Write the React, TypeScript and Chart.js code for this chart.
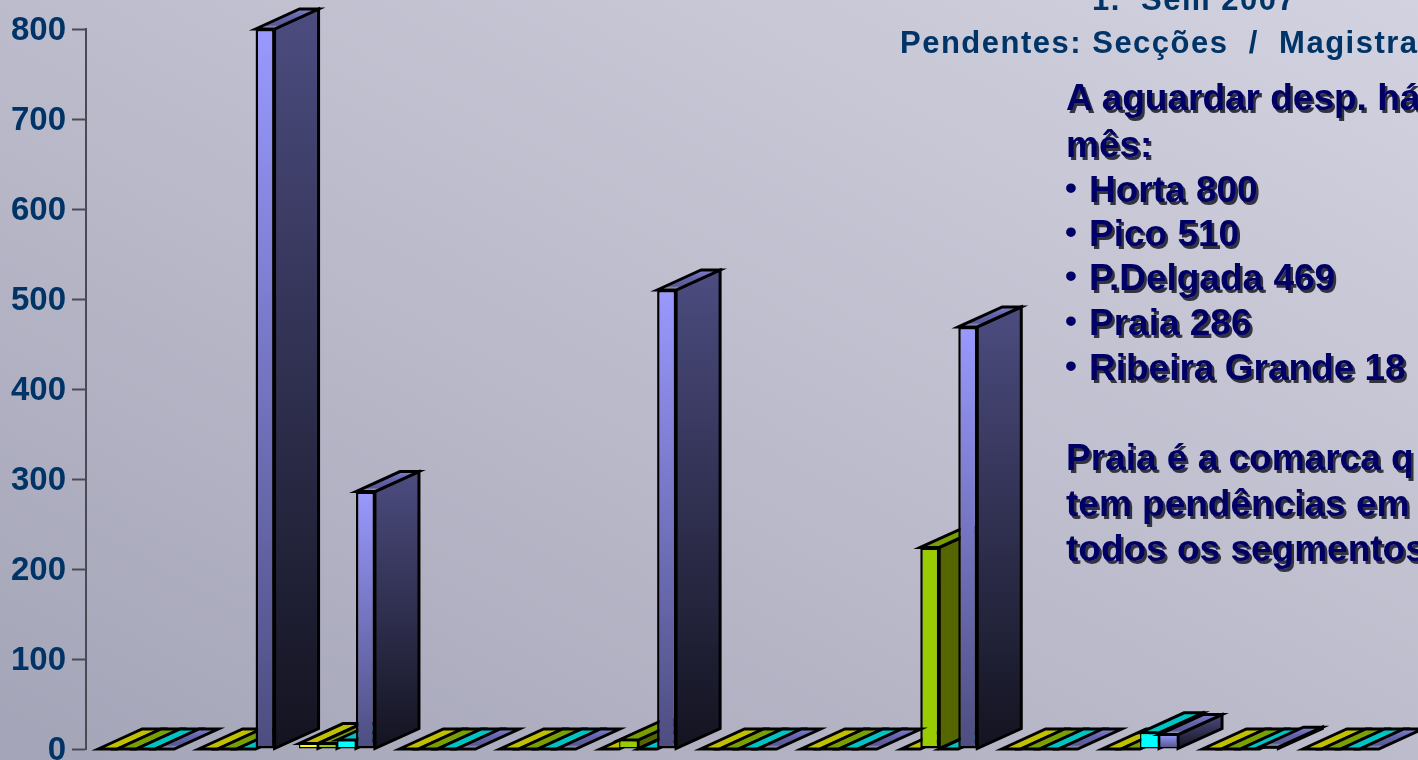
import React, { useEffect, useRef } from "react";
import { Chart, registerables } from "chart.js";

Chart.register(...registerables);

const categories = ["C1", "Horta", "Praia", "C4", "C5", "Pico", "C7", "C8", "P.Delgada", "C10", "Ribeira Grande", "C12", "C13"];
const seriesYellow = [0, 0, 6, 0, 0, 0, 0, 0, 0, 0, 0, 0, 0];
const seriesGreen = [0, 0, 6, 0, 0, 10, 0, 0, 224, 0, 0, 0, 0];
const seriesCyan = [0, 0, 10, 0, 0, 0, 0, 0, 0, 0, 18, 0, 0];
const seriesPurple = [0, 800, 286, 0, 0, 510, 0, 0, 469, 0, 16, 2, 0];
const yTicks = [0, 100, 200, 300, 400, 500, 600, 700, 800];

const titleLines = [
  { text: "1.  Sem 2007", left: 1092, baseline: 12 },
  { text: "Pendentes: Secções  /  Magistra", left: 900, baseline: 55 },
];
const noteLines = [
  { text: "A aguardar desp. há", left: 1066, baseline: 111 },
  { text: "mês:", left: 1066, baseline: 158 },
  { text: "Horta 800", left: 1089, baseline: 203, bullet: true },
  { text: "Pico 510", left: 1089, baseline: 247, bullet: true },
  { text: "P.Delgada 469", left: 1089, baseline: 291, bullet: true },
  { text: "Praia 286", left: 1089, baseline: 336, bullet: true },
  { text: "Ribeira Grande 18", left: 1089, baseline: 381, bullet: true },
  { text: "Praia é a comarca q", left: 1066, baseline: 471 },
  { text: "tem pendências em", left: 1066, baseline: 517 },
  { text: "todos os segmentos", left: 1066, baseline: 562 },
];

const DX = 44;
const DY = -20;

type Face = { front: string; side: string; top: string };
const faces: Face[] = [
  { front: "#ffff00", side: "#808000", top: "#c0c000" },
  { front: "#99cc00", side: "#556600", top: "#7a9f00" },
  { front: "#00ffff", side: "#009a9a", top: "#00c4c4" },
  { front: "#9999ff", side: "#4c4c80", top: "#7070b8" },
];

function drawFaces(chart: any, i: number) {
  const ctx: CanvasRenderingContext2D = chart.ctx;
  const meta = chart.getDatasetMeta(i);
  const f = faces[i];
  meta.data.forEach((bar: any) => {
    const p = bar.getProps(["x", "y", "base", "width"], true);
    const l = p.x - p.width / 2;
    const r = p.x + p.width / 2;
    const t = p.y;
    const b = p.base;
    ctx.save();
    ctx.lineWidth = 3;
    ctx.strokeStyle = "#000";
    ctx.lineJoin = "miter";
    if (b - t > 0.5) {
      let fill: any = f.side;
      if (i === 3) {
        const g = ctx.createLinearGradient(0, t + DY, 0, b);
        g.addColorStop(0, "#4c4c80");
        g.addColorStop(1, "#131320");
        fill = g;
      }
      ctx.beginPath();
      ctx.moveTo(r, t);
      ctx.lineTo(r + DX, t + DY);
      ctx.lineTo(r + DX, b + DY);
      ctx.lineTo(r, b);
      ctx.closePath();
      ctx.fillStyle = fill;
      ctx.fill();
      ctx.stroke();
    }
    let topFill: any = f.top;
    if (i === 3) {
      const g = ctx.createLinearGradient(0, t, 0, t + DY);
      g.addColorStop(0, "#c4c4d4");
      g.addColorStop(0.2, "#5a5a94");
      g.addColorStop(0.6, "#6464ac");
      g.addColorStop(1, "#8080cc");
      topFill = g;
    }
    ctx.beginPath();
    ctx.moveTo(l, t);
    ctx.lineTo(l + DX, t + DY);
    ctx.lineTo(r + DX, t + DY);
    ctx.lineTo(r, t);
    ctx.closePath();
    ctx.fillStyle = topFill;
    ctx.fill();
    ctx.stroke();
    ctx.restore();
  });
}

const faces3d = {
  id: "faces3d",
  beforeDatasetDraw() {
    return false;
  },
  afterDatasetsDraw(chart: any) {
    seriesList.forEach((_, i) => {
      drawFaces(chart, i);
      chart.getDatasetMeta(i).controller.draw();
    });
  },
};

function frontFill(i: number) {
  return (c: any) => {
    if (i !== 3) return faces[i].front;
    const scale = c.chart.scales.y;
    if (!scale || typeof c.raw !== "number") return faces[i].front;
    const y0 = scale.getPixelForValue(c.raw);
    const y1 = scale.getPixelForValue(0);
    if (!Number.isFinite(y0) || !Number.isFinite(y1)) return faces[i].front;
    const g = c.chart.ctx.createLinearGradient(0, y0, 0, y1);
    g.addColorStop(0, "#9999ff");
    g.addColorStop(1, "#4d4d80");
    return g;
  };
}

const seriesList = [seriesYellow, seriesGreen, seriesCyan, seriesPurple];

export default function App() {
  const ref = useRef<HTMLCanvasElement>(null);
  useEffect(() => {
    if (!ref.current) return;
    const chart = new Chart(ref.current, {
      type: "bar",
      data: {
        labels: categories,
        datasets: seriesList.map((data, i) => ({
          label: `Série ${i + 1}`,
          data,
          backgroundColor: frontFill(i),
          borderColor: "#000",
          borderWidth: (c: any) => (typeof c.raw === "number" && c.raw < 30 ? 1.4 : 2.5),
          borderSkipped: false,
          categoryPercentage: 0.757,
          barPercentage: 1,
        })),
      },
      options: {
        animation: false,
        responsive: false,
        devicePixelRatio: 1,
        layout: { padding: { left: 0, top: 29, right: 27, bottom: 11 } },
        plugins: { legend: { display: false }, tooltip: { enabled: false }, title: { display: false } },
        scales: {
          x: { display: false },
          y: {
            min: 0,
            max: 800,
            afterBuildTicks: (s: any) => {
              s.ticks = yTicks.map((value) => ({ value }));
            },
            afterFit: (s: any) => {
              s.width = 86;
              s.paddingTop = 0;
              s.paddingBottom = 0;
            },
            border: { color: "#4a4a55", width: 2 },
            grid: { drawOnChartArea: false, color: "#4a4a55", tickLength: 14, tickWidth: 2 },
            ticks: {
              color: "#003366",
              padding: 6,
              labelOffset: 2,
              font: { family: "'Liberation Sans', Arial, sans-serif", size: 33, weight: "bold" },
            },
          },
        },
      },
      plugins: [faces3d],
    } as any);
    return () => chart.destroy();
  }, []);

  const base: React.CSSProperties = {
    position: "absolute",
    whiteSpace: "pre",
    fontFamily: "'Liberation Sans', Arial, sans-serif",
    fontWeight: "bold",
  };
  return (
    <div
      style={{
        position: "fixed",
        left: 0,
        top: 0,
        width: 1418,
        height: 760,
        overflow: "hidden",
        background: "linear-gradient(to top right, #a4a4b8 0%, #bcbccc 50%, #d2d2e0 100%)",
      }}
    >
      <canvas ref={ref} width={1418} height={760} style={{ position: "absolute", left: 0, top: 0, width: 1418, height: 760 }} />
      {titleLines.map((l) => (
        <div
          key={l.text}
          style={{ ...base, left: l.left, top: l.baseline - 29, lineHeight: "34px", fontSize: 31, letterSpacing: 1.5, color: "#003366" }}
        >
          {l.text}
        </div>
      ))}
      {noteLines.map((l) => (
        <React.Fragment key={l.text}>
          {l.bullet ? (
            <div style={{ ...base, left: 1065, top: l.baseline - 31, lineHeight: "30px", fontSize: 34, color: "#000066" }}>•</div>
          ) : null}
          <div
            style={{
              ...base,
              left: l.left,
              top: l.baseline - 35,
              lineHeight: "44px",
              fontSize: 37,
              color: "#000066",
              textShadow: "2.5px 2.5px 0 #33333f",
            }}
          >
            {l.text}
          </div>
        </React.Fragment>
      ))}
    </div>
  );
}
